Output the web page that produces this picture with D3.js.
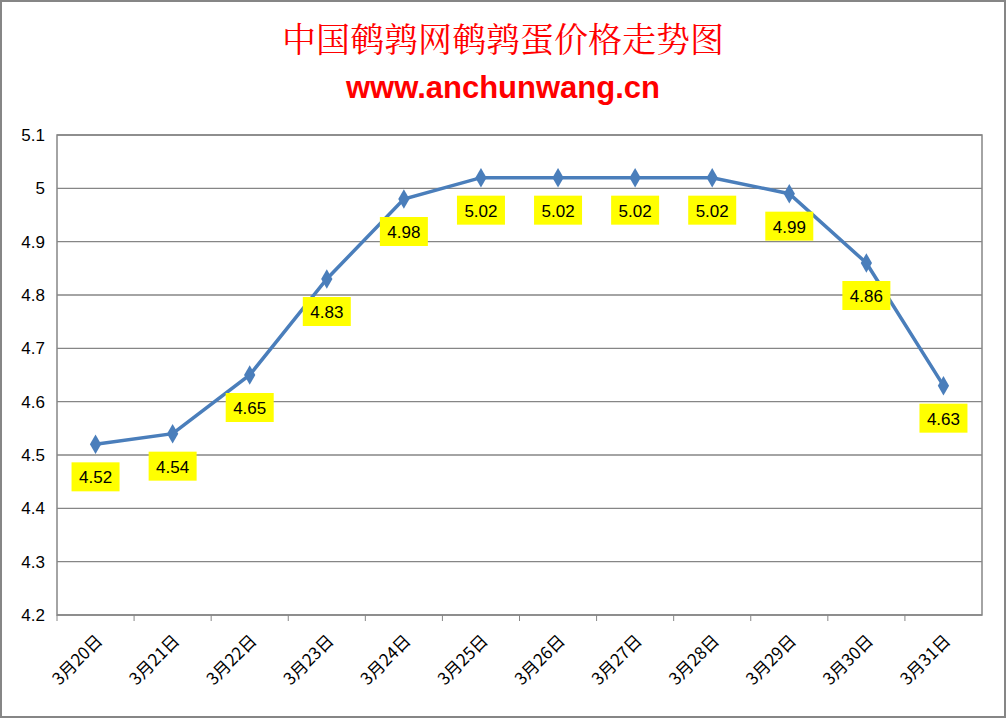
<!DOCTYPE html>
<html><head><meta charset="utf-8">
<script src="https://cdn.jsdelivr.net/npm/d3@7"></script>
<style>body{margin:0;background:#fff}</style></head>
<body><svg id="c" width="1007" height="719"></svg>
<script>
const categories=["3月20日","3月21日","3月22日","3月23日","3月24日","3月25日","3月26日","3月27日","3月28日","3月29日","3月30日","3月31日"];
const prices=[4.52,4.54,4.65,4.83,4.98,5.02,5.02,5.02,5.02,4.99,4.86,4.63];
const yTicks=[4.2,4.3,4.4,4.5,4.6,4.7,4.8,4.9,5,5.1];
const svg=d3.select("#c");
svg.append("rect").attr("x",1).attr("y",1).attr("width",1004).attr("height",716).attr("fill","#fff").attr("stroke","#868686").attr("stroke-width",2);
const L=57,R=982,T=135,B=615;
const x=d3.scaleBand().domain(categories).range([L,R]);
const y=d3.scaleLinear().domain([4.2,5.1]).range([B,T]);
svg.append("text").attr("x",503).attr("y",52).attr("text-anchor","middle").attr("fill","#ff0000").attr("font-size",34).attr("font-family","Noto Serif CJK SC, Noto Sans CJK SC").text("中国鹌鹑网鹌鹑蛋价格走势图");
svg.append("text").attr("x",503).attr("y",98).attr("text-anchor","middle").attr("fill","#ff0000").attr("font-size",31).attr("font-weight","bold").attr("font-family","Liberation Sans, Arial").text("www.anchunwang.cn");
svg.append("g").selectAll("line").data(yTicks).join("line").attr("x1",L).attr("x2",R).attr("y1",d=>y(d)).attr("y2",d=>y(d)).attr("stroke","#868686").attr("stroke-width",1.3);
svg.append("rect").attr("x",L).attr("y",T).attr("width",R-L).attr("height",B-T).attr("fill","none").attr("stroke","#868686").attr("stroke-width",1.5);
svg.append("g").selectAll("text").data(yTicks).join("text").attr("x",L-12).attr("y",d=>y(d)+6).attr("text-anchor","end").attr("font-size",17).attr("font-family","Liberation Sans, Arial").text(d=>d);
svg.append("g").selectAll("line").data(categories).join("line").attr("x1",d=>x(d)).attr("x2",d=>x(d)).attr("y1",B).attr("y2",B+6).attr("stroke","#868686");
svg.append("g").selectAll("text").data(categories).join("text").attr("transform",d=>`translate(${x(d)+x.bandwidth()/2+8},${B+27}) rotate(-45)`).attr("text-anchor","end").attr("font-size",17).attr("font-family","Noto Sans CJK SC").text(d=>d);
const cx=(d,i)=>x(categories[i])+x.bandwidth()/2;
svg.append("path").datum(prices).attr("fill","none").attr("stroke","#4a7ebb").attr("stroke-width",3.5).attr("d",d3.line().x((d,i)=>cx(d,i)).y(d=>y(d)));
svg.append("g").selectAll("path").data(prices).join("path").attr("d",d3.symbol(d3.symbolDiamond,110)).attr("transform",(d,i)=>`translate(${cx(d,i)},${y(d)})`).attr("fill","#4a7ebb");
const lab=svg.append("g").selectAll("g").data(prices).join("g").attr("transform",(d,i)=>`translate(${cx(d,i)},${y(d)+33})`);
lab.append("rect").attr("x",-24).attr("y",-15).attr("width",48).attr("height",29).attr("fill","#ffff00");
lab.append("text").attr("y",6).attr("text-anchor","middle").attr("font-size",17).attr("font-family","Liberation Sans, Arial").text(d=>d.toFixed(2));
</script></body></html>
